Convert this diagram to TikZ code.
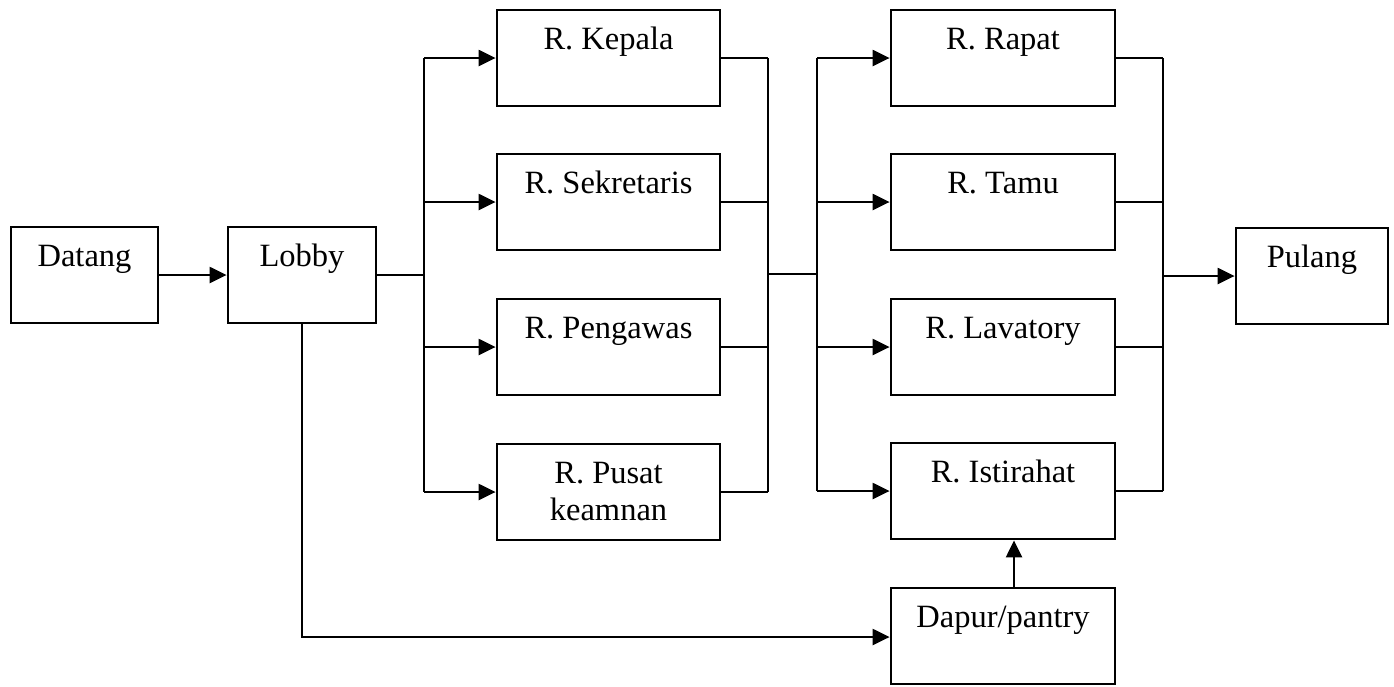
\documentclass[tikz,border=0pt]{standalone}
\usepackage{fontspec}
\setmainfont{Liberation Serif}
\usetikzlibrary{arrows.meta}
\tikzset{
  room/.style={draw=black, line width=2.8pt, fill=none, inner sep=0pt, minimum width=223pt, minimum height=96pt},
  smallbox/.style={room, minimum width=148pt},
  lbl/.style={anchor=base, yshift=-41pt, inner sep=0pt, font=\fontsize{32.5pt}{37pt}\selectfont},
  lbltwo/.style={anchor=base, yshift=-78pt, inner sep=0pt, font=\fontsize{32.5pt}{37pt}\selectfont},
  conn/.style={draw=black, line width=2.3pt},
  arr/.style={conn, -{Triangle[length=17pt,width=16pt]}},
}
\begin{document}
\begin{tikzpicture}[x=1pt,y=-1pt]
\useasboundingbox (0,0) rectangle (1394,686);
% boxes
\node[smallbox, minimum width=147pt] (datang) at (84.5,275) {};
\node[lbl] at (datang.north) {Datang};
\node[smallbox] (lobby) at (302,275) {};
\node[lbl] at (lobby.north) {Lobby};

\node[room] (kepala) at (608.5,58) {};
\node[lbl] at (kepala.north) {R. Kepala};
\node[room] (sekretaris) at (608.5,202) {};
\node[lbl] at (sekretaris.north) {R. Sekretaris};
\node[room] (pengawas) at (608.5,347) {};
\node[lbl] at (pengawas.north) {R. Pengawas};
\node[room] (pusat) at (608.5,492) {};
\node[lbl] at (pusat.north) {R. Pusat};
\node[lbltwo] at (pusat.north) {keamnan};

\node[room, minimum width=224pt] (rapat) at (1003,58) {};
\node[lbl] at (rapat.north) {R. Rapat};
\node[room, minimum width=224pt] (tamu) at (1003,202) {};
\node[lbl] at (tamu.north) {R. Tamu};
\node[room, minimum width=224pt] (lavatory) at (1003,347) {};
\node[lbl] at (lavatory.north) {R. Lavatory};
\node[room, minimum width=224pt] (istirahat) at (1003,491) {};
\node[lbl] at (istirahat.north) {R. Istirahat};
\node[room, minimum width=224pt] (dapur) at (1003,636) {};
\node[lbl] at (dapur.north) {Dapur/pantry};

\node[smallbox, minimum width=152pt] (pulang) at (1312,276) {};
\node[lbl] at (pulang.north) {Pulang};

% junction coordinates
\coordinate (ja) at (424,275);
\coordinate (jb) at (768,274);
\coordinate (jc) at (817,274);
\coordinate (jd) at (1163,276);
\coordinate (je) at (302,637);

% connectors
\draw[arr] (datang.east) -- (lobby.west);
\draw[conn] (lobby.east) -- (ja);
\draw[conn] (ja |- kepala.west) -- (ja |- pusat.west);
\draw[arr] (ja |- kepala.west) -- (kepala.west);
\draw[arr] (ja |- sekretaris.west) -- (sekretaris.west);
\draw[arr] (ja |- pengawas.west) -- (pengawas.west);
\draw[arr] (ja |- pusat.west) -- (pusat.west);

\draw[conn] (kepala.east) -- (jb |- kepala.east);
\draw[conn] (sekretaris.east) -- (jb |- sekretaris.east);
\draw[conn] (pengawas.east) -- (jb |- pengawas.east);
\draw[conn] (pusat.east) -- (jb |- pusat.east);
\draw[conn] (jb |- kepala.east) -- (jb |- pusat.east);
\draw[conn] (jb) -- (jc);

\draw[conn] (jc |- rapat.west) -- (jc |- istirahat.west);
\draw[arr] (jc |- rapat.west) -- (rapat.west);
\draw[arr] (jc |- tamu.west) -- (tamu.west);
\draw[arr] (jc |- lavatory.west) -- (lavatory.west);
\draw[arr] (jc |- istirahat.west) -- (istirahat.west);

\draw[conn] (rapat.east) -- (jd |- rapat.east);
\draw[conn] (tamu.east) -- (jd |- tamu.east);
\draw[conn] (lavatory.east) -- (jd |- lavatory.east);
\draw[conn] (istirahat.east) -- (jd |- istirahat.east);
\draw[conn] (jd |- rapat.east) -- (jd |- istirahat.east);
\draw[arr] (jd) -- (pulang.west);

\draw[arr] (lobby.south) -- (je) -- (dapur.west |- je);
\draw[arr] (dapur.north -| 1014,0) -- (istirahat.south -| 1014,0);
\end{tikzpicture}
\end{document}
